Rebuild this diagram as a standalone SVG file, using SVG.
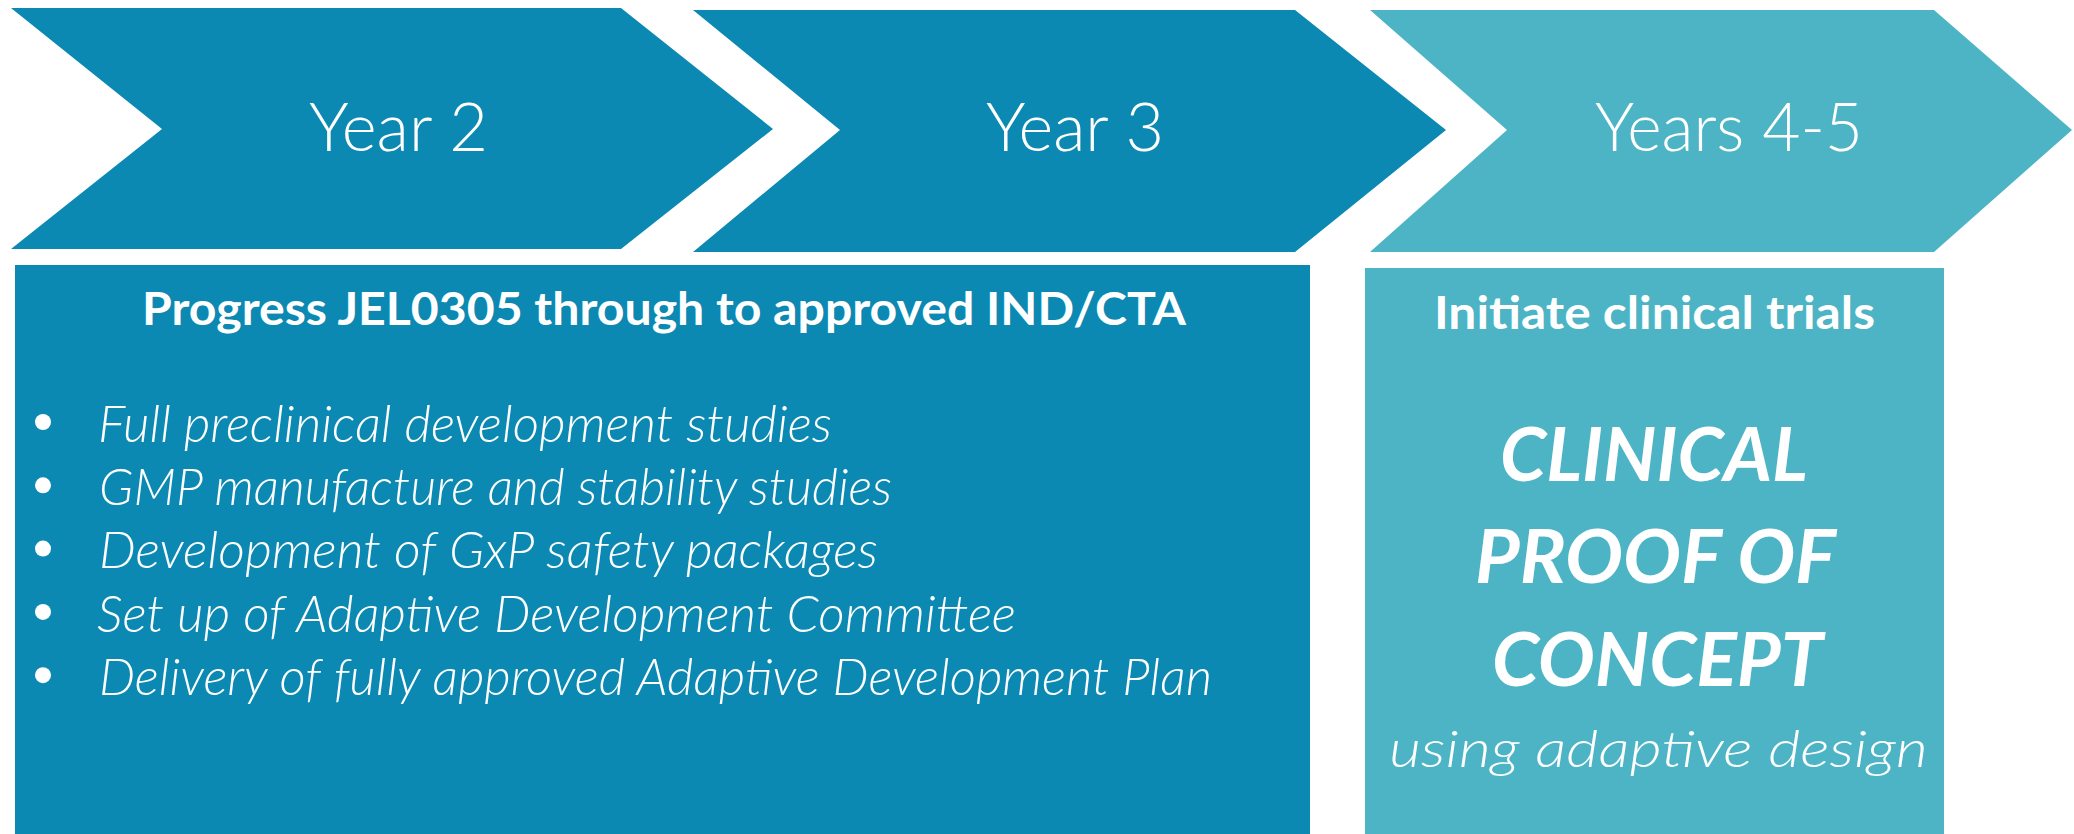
<svg xmlns="http://www.w3.org/2000/svg" width="2074" height="834" viewBox="0 0 2074 834">
<style>
.dark{fill:#0B89B2}
.light{fill:#4CB4C5}
text{fill:#fff;font-family:Lato,"Open Sans","Liberation Sans",sans-serif}
.yr{font-size:67px;font-weight:300}
.hd{font-size:46px;font-weight:700}
.bl{font-size:51px;font-weight:300;font-style:italic}
.big{font-size:75px;font-weight:700;font-style:italic}
.dot{fill:#fff}
</style>
<rect x="0" y="0" width="2074" height="834" fill="#fff"/>
<g id="year2">
<polygon class="dark" points="11,8 621,8 773,129 621,249 11,249 162,129"/>
<text class="yr" x="309" y="151" textLength="179" lengthAdjust="spacingAndGlyphs">Year 2</text>
</g>
<g id="year3">
<polygon class="dark" points="693,10 1295,10 1446,130 1295,252 693,252 840,130"/>
<text class="yr" x="986" y="151" textLength="178" lengthAdjust="spacingAndGlyphs">Year 3</text>
</g>
<g id="years45">
<polygon class="light" points="1370,10 1934,10 2072,130 1934,252 1370,252 1507,130"/>
<text class="yr" x="1595" y="151" textLength="268" lengthAdjust="spacingAndGlyphs">Years 4-5</text>
</g>
<g id="progress-box">
<rect class="dark" x="15" y="265" width="1295" height="569"/>
<text class="hd" x="142" y="325" textLength="1044" lengthAdjust="spacingAndGlyphs">Progress JEL0305 through to approved IND/CTA</text>
<circle class="dot" cx="43" cy="422" r="8"/>
<circle class="dot" cx="43" cy="485.3" r="8"/>
<circle class="dot" cx="43" cy="548.6" r="8"/>
<circle class="dot" cx="43" cy="611.9" r="8"/>
<circle class="dot" cx="43" cy="675.2" r="8"/>
<text class="bl" x="98" y="441.7" textLength="734" lengthAdjust="spacingAndGlyphs">Full preclinical development studies</text>
<text class="bl" x="99" y="505" textLength="793" lengthAdjust="spacingAndGlyphs">GMP manufacture and stability studies</text>
<text class="bl" x="99" y="568.3" textLength="779" lengthAdjust="spacingAndGlyphs">Development of GxP safety packages</text>
<text class="bl" x="97" y="631.6" textLength="919" lengthAdjust="spacingAndGlyphs">Set up of Adaptive Development Committee</text>
<text class="bl" x="99" y="694.9" textLength="1113" lengthAdjust="spacingAndGlyphs">Delivery of fully approved Adaptive Development Plan</text>
</g>
<g id="clinical-box">
<rect class="light" x="1365" y="268" width="579" height="566"/>
<text class="hd" x="1434" y="329" textLength="441" lengthAdjust="spacingAndGlyphs">Initiate clinical trials</text>
<text class="big" x="1500" y="481" textLength="308" lengthAdjust="spacingAndGlyphs">CLINICAL</text>
<text class="big" x="1475" y="583" textLength="361" lengthAdjust="spacingAndGlyphs">PROOF OF</text>
<text class="big" x="1492" y="686" textLength="331" lengthAdjust="spacingAndGlyphs">CONCEPT</text>
<text class="bl" x="1389" y="767" textLength="539" lengthAdjust="spacingAndGlyphs">using adaptive design</text>
</g>
<g id="connectors"/>
</svg>
